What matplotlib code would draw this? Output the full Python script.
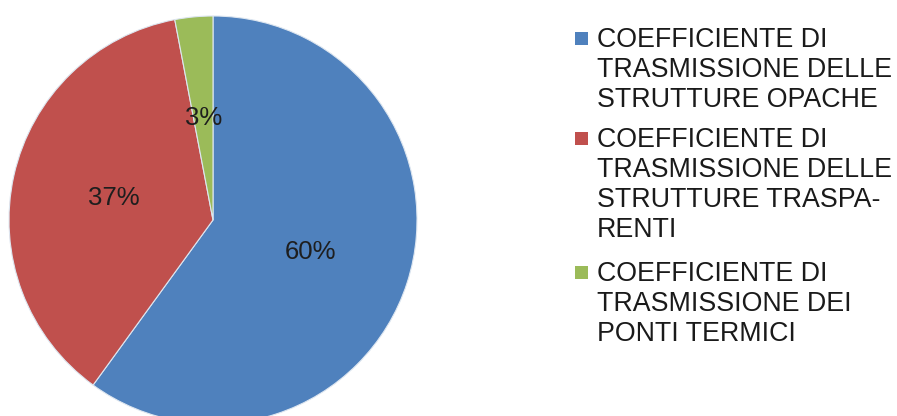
import matplotlib
matplotlib.use("Agg")
import matplotlib.pyplot as plt
from matplotlib.patches import Rectangle

plt.rcParams['font.family'] = ['Liberation Sans', 'DejaVu Sans']

categories = [
    "COEFFICIENTE DI\nTRASMISSIONE DELLE\nSTRUTTURE OPACHE",
    "COEFFICIENTE DI\nTRASMISSIONE DELLE\nSTRUTTURE TRASPA-\nRENTI",
    "COEFFICIENTE DI\nTRASMISSIONE DEI\nPONTI TERMICI",
]
values = [60, 37, 3]
colors = ["#4F81BD", "#C0504D", "#9BBB59"]

W, H = 897, 416
fig = plt.figure(figsize=(W / 100, H / 100), dpi=100)
fig.patch.set_facecolor("white")

cx, cy, r = 213, 220, 204
ax = fig.add_axes([(cx - r) / W, (H - cy - r) / H, 2 * r / W, 2 * r / H])
wedges, texts, autotexts = ax.pie(
    values, colors=colors, startangle=90, counterclock=False,
    autopct=lambda p: f"{p:.0f}%", pctdistance=0.5, radius=1,
    wedgeprops=dict(linewidth=0.8, edgecolor="#dde6f0"),
    textprops=dict(fontsize=18.5, color="#1e1e1e"),
)
ax.set_xlim(-1, 1)
ax.set_ylim(-1, 1)
ax.set_aspect("equal")
ax.axis("off")

# legend, drawn manually so the swatch sits on the first line
first_line_y = [38, 138, 272]
text_x = 597
sq = 13
for label, col, y in zip(categories, colors, first_line_y):
    fig.patches.append(Rectangle((575 / W, (H - y - sq / 2) / H), sq / W, sq / H,
                                 transform=fig.transFigure, facecolor=col,
                                 edgecolor="none"))
    fig.text(text_x / W, (H - y + 11) / H, label, fontsize=19.3, color="#1a1a1a",
             va="top", ha="left", linespacing=1.2)

fig.savefig("out.png", dpi=100, facecolor="white")
